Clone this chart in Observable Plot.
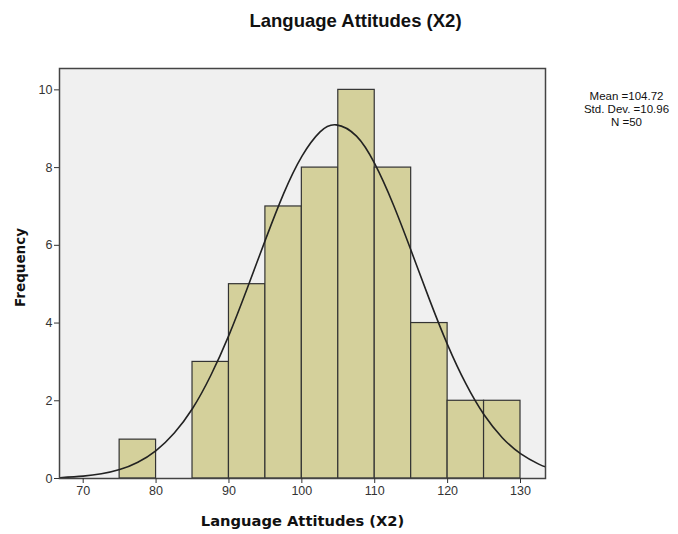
<!DOCTYPE html>
<html>
<head>
<meta charset="utf-8">
<script src="https://cdn.jsdelivr.net/npm/d3@7"></script>
<script src="https://cdn.jsdelivr.net/npm/@observablehq/plot@0.6"></script>
<style>
  html, body { margin: 0; padding: 0; background: #fff; }
  #chart { width: 678px; height: 534px; }
</style>
</head>
<body>
<div id="chart"></div>
<script>
// Histogram bins (lower edge, upper edge) and counts
const binStart = [75, 80, 85, 90, 95, 100, 105, 110, 115, 120, 125];
const binEnd   = [80, 85, 90, 95, 100, 105, 110, 115, 120, 125, 130];
const counts   = [1, 0, 3, 5, 7, 8, 10, 8, 4, 2, 2];

// Fitted normal curve
const curveX = [66.8, 70, 72.5, 75, 77.5, 80, 82.5, 85, 87.5, 90, 92.5, 95, 97.5, 100, 102.5, 104.72, 107.5, 110, 112.5, 115, 117.5, 120, 122.5, 125, 127.5, 130, 132.5, 133.4];
const curveY = [0.02, 0.06, 0.12, 0.23, 0.42, 0.72, 1.17, 1.80, 2.65, 3.69, 4.89, 6.14, 7.33, 8.29, 8.92, 9.10, 8.81, 8.10, 7.07, 5.86, 4.61, 3.44, 2.44, 1.64, 1.05, 0.64, 0.37, 0.30];

const xTicks = [70, 80, 90, 100, 110, 120, 130];
const yTicks = [0, 2, 4, 6, 8, 10];

const title = "Language Attitudes (X2)";
const xLabel = "Language Attitudes (X2)";
const yLabel = "Frequency";
const stats = ["Mean =104.72", "Std. Dev. =10.96", "N =50"];

const bins = binStart.map((s, i) => ({x1: s, x2: binEnd[i], y: counts[i]})).filter(d => d.y > 0);
const curve = curveX.map((x, i) => ({x, y: curveY[i]}));

const chart = Plot.plot({
  width: 678,
  height: 534,
  marginLeft: 59,
  marginRight: 133,
  marginTop: 68,
  marginBottom: 56,
  style: {fontFamily: "'Liberation Sans', Arial, sans-serif", background: "#fff"},
  x: {domain: [66.75, 133.43], ticks: xTicks},
  y: {domain: [0, 10.55], ticks: yTicks},
  marks: [
    Plot.frame({fill: "#f0f0f0", stroke: "none"}),
    Plot.rectY(bins, {x1: "x1", x2: "x2", y: "y", fill: "#d4d09b", stroke: "#333", strokeWidth: 1.2}),
    Plot.line(curve, {x: "x", y: "y", stroke: "#222", strokeWidth: 1.6, curve: "natural"}),
    Plot.frame({stroke: "#444", strokeWidth: 1.5}),
    Plot.axisX({ticks: xTicks, tickSize: 5, tickPadding: 3, fontSize: 12.5, color: "#333", label: null, stroke: "#333"}),
    Plot.axisY({ticks: yTicks, tickSize: 5, tickPadding: 2, fontSize: 12.5, color: "#333", label: null, stroke: "#333"}),
    Plot.text([title], {frameAnchor: "top", lineAnchor: "middle", dx: 53, dy: -47, text: d => d, fontSize: 18.5, fontWeight: "bold", fill: "#111"}),
    Plot.text([xLabel], {frameAnchor: "bottom", lineAnchor: "middle", dy: 43, text: d => d, fontSize: 14.7, fontWeight: "bold", fill: "#111", fontFamily: "'DejaVu Sans', Verdana, sans-serif"}),
    Plot.text([yLabel], {frameAnchor: "left", textAnchor: "middle", dx: -39, dy: -6, rotate: -90, text: d => d, fontSize: 13.5, fontWeight: "bold", fill: "#111", fontFamily: "'DejaVu Sans', Verdana, sans-serif"}),
    Plot.text([stats.join("\n")], {frameAnchor: "top-right", dx: 81, dy: 23, lineAnchor: "top", textAnchor: "middle", text: d => d, fontSize: 11.5, lineHeight: 1.1, fill: "#111"})
  ]
});
document.getElementById("chart").appendChild(chart);
</script>
</body>
</html>
